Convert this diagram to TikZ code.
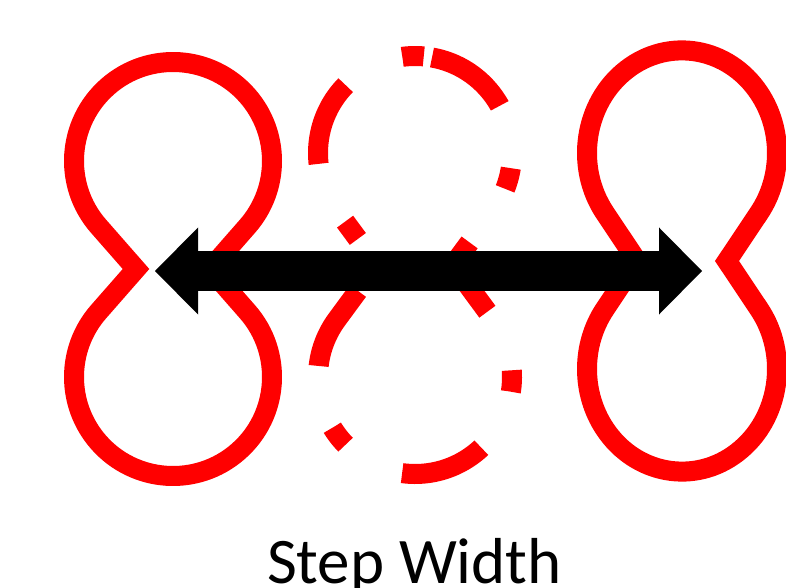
\documentclass[tikz,border=0pt]{standalone}
\usepackage{fontspec}
\setmainfont{Carlito}
\usetikzlibrary{arrows.meta}
\begin{document}
\begin{tikzpicture}[x=1pt,y=1pt,
  redline/.style={draw=red,line width=20pt},
  dashdotline/.style={draw=red,line width=20pt,dash pattern=on 86pt off 64.5pt on 21.5pt off 64.5pt},
  widtharrow/.style={draw=black,line width=39pt,
    {Triangle[length=43pt,width=87pt,line width=0pt]}-{Triangle[length=43pt,width=87pt,line width=0pt]}},
  caption/.style={font=\fontsize{65}{78}\selectfont,anchor=base,inner sep=0pt}]
\useasboundingbox (0,0) rectangle (786,587);
% left foot print (figure eight)
\pgfmathsetmacro\ra{99}\pgfmathsetmacro\ca{108}\pgfmathsetmacro\na{37}
\pgfmathsetmacro\ea{180+atan(\ca/\na)-acos(\ra/sqrt(\na*\na+\ca*\ca))}
\draw[redline,shift={(173,318)}] (-\na,0) -- ({\ra*cos(\ea)},{\ca+\ra*sin(\ea)})
  arc[start angle=\ea,end angle={180-\ea},radius=\ra] -- (\na,0)
  -- ({-\ra*cos(\ea)},{-\ca-\ra*sin(\ea)})
  arc[start angle={\ea-180},end angle={-\ea},radius=\ra] -- cycle;
% middle foot print, dash-dot
\pgfmathsetmacro\rb{97}\pgfmathsetmacro\cb{112}\pgfmathsetmacro\nb{38}
\pgfmathsetmacro\eb{180+atan(\cb/\nb)-acos(\rb/sqrt(\nb*\nb+\cb*\cb))}
\pgfmathsetmacro\sb{90-asin(17/\rb)}
\draw[dashdotline,shift={(415,322)}] ({\rb*cos(\sb)},{\cb+\rb*sin(\sb)})
  arc[start angle=\sb,end angle={180-\eb},radius=\rb] -- (\nb,0)
  -- ({-\rb*cos(\eb)},{-\cb-\rb*sin(\eb)})
  arc[start angle={\eb-180},end angle={-\eb},radius=\rb] -- (-\nb,0)
  -- ({\rb*cos(\eb)},{\cb+\rb*sin(\eb)})
  arc[start angle=\eb,end angle=\sb,radius=\rb];
% right foot print
\pgfmathsetmacro\rc{95}\pgfmathsetmacro\cc{100}\pgfmathsetmacro\nc{45}
\pgfmathsetmacro\ec{180+atan(\cc/\nc)-acos(\rc/sqrt(\nc*\nc+\cc*\cc))}
\begin{scope}[shift={(682,326)},yscale=1.08]
\draw[redline] (-\nc,0) -- ({\rc*cos(\ec)},{\cc+\rc*sin(\ec)})
  arc[start angle=\ec,end angle={180-\ec},radius=\rc] -- (\nc,0)
  -- ({-\rc*cos(\ec)},{-\cc-\rc*sin(\ec)})
  arc[start angle={\ec-180},end angle={-\ec},radius=\rc] -- cycle;
\end{scope}
% step width arrow
\coordinate (ltip) at (155,316);
\coordinate (rtip) at (702,316);
\draw[widtharrow] (ltip) -- (rtip);
\node[caption] (label) at (414.5,4) {Step Width};
\end{tikzpicture}
\end{document}
